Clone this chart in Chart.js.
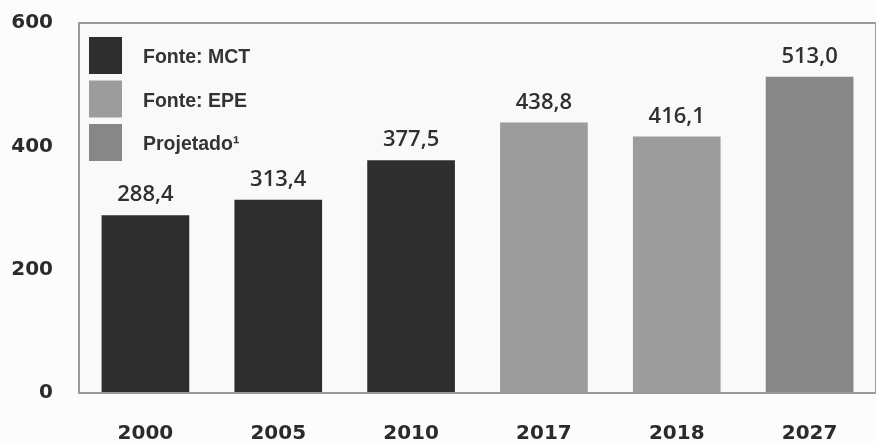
<!DOCTYPE html>
<html lang="pt">
<head>
<meta charset="utf-8">
<title>Emissões</title>
<script src="https://cdn.jsdelivr.net/npm/chart.js@4/dist/chart.umd.min.js"></script>
<style>
    html, body { margin: 0; padding: 0; background: #fcfcfc; }
    #wrap { width: 876px; height: 443px; position: relative; }
</style>
</head>
<body>
<div id="wrap"><canvas id="emissoes-chart"></canvas></div>
<script>
// anos e valores das barras
const years  = ["2000", "2005", "2010", "2017", "2018", "2027"];
const values = [288.4, 313.4, 377.5, 438.8, 416.1, 513.0];
// fonte de cada barra: 0 = MCT, 1 = EPE, 2 = projetado
const sourceIdx = [0, 0, 0, 1, 1, 2];

const legendLabels = ["Fonte: MCT", "Fonte: EPE", "Projetado¹"];
const legendColors = ["#2e2e2e", "#9c9c9c", "#878787"];

const yTicks = [0, 200, 400, 600];

const fmt = v => v.toFixed(1).replace(".", ",");

// legenda desenhada dentro da área do gráfico, canto superior esquerdo
const insideLegend = {
    id: "insideLegend",
    afterDraw(chart) {
        const ctx = chart.ctx;
        const a = chart.chartArea;
        ctx.save();
        ctx.font = "bold 19.5px 'Liberation Sans', Arial, sans-serif";
        ctx.textBaseline = "middle";
        legendLabels.forEach((txt, i) => {
            const top = a.top + 14 + i * 43.5;
            ctx.fillStyle = legendColors[i];
            ctx.fillRect(a.left + 10, top, 33, 37);
            ctx.fillStyle = "#333333";
            ctx.fillText(txt, a.left + 64, top + 21);
        });
        ctx.restore();
    },
};

// valores acima de cada barra
const valueLabels = {
    id: "valueLabels",
    afterDatasetsDraw(chart) {
        const ctx = chart.ctx;
        const meta = chart.getDatasetMeta(0);
        ctx.save();
        ctx.font = "600 22px 'Open Sans', sans-serif";
        ctx.fillStyle = "#2f2f2f";
        ctx.textAlign = "center";
        ctx.textBaseline = "bottom";
        meta.data.forEach((bar, i) => {
            ctx.fillText(fmt(values[i]), bar.x, bar.y - 9);
        });
        ctx.restore();
    },
};

// moldura cinza em volta da área do gráfico
const plotFrame = {
    id: "plotFrame",
    beforeDatasetsDraw(chart) {
        const ctx = chart.ctx;
        const a = chart.chartArea;
        ctx.save();
        ctx.fillStyle = "#f9f9f9";
        ctx.fillRect(a.left, a.top, a.right - a.left, a.bottom - a.top);
        ctx.restore();
    },
    afterDatasetsDraw(chart) {
        const ctx = chart.ctx;
        const a = chart.chartArea;
        ctx.save();
        ctx.strokeStyle = "#9a9a9a";
        ctx.lineWidth = 2;
        ctx.strokeRect(a.left, a.top, a.right - a.left, a.bottom - a.top);
        ctx.restore();
    },
};

const tickFont = { family: "'DejaVu Sans', sans-serif", size: 20, weight: "bold" };

new Chart(document.getElementById("emissoes-chart"), {
    type: "bar",
    data: {
        labels: years,
        datasets: [{
            data: values,
            backgroundColor: sourceIdx.map(s => legendColors[s]),
            categoryPercentage: 1,
            barPercentage: 0.66,
        }],
    },
    options: {
        responsive: true,
        maintainAspectRatio: false,
        animation: false,
        layout: { padding: { top: 23, right: 0, left: 0, bottom: 0 } },
        plugins: {
            legend: { display: false },
            tooltip: { enabled: false },
        },
        scales: {
            x: {
                grid: { display: false },
                border: { display: false },
                ticks: {
                    color: "#2b2b2b",
                    font: tickFont,
                    padding: 21,
                },
                afterFit(scale) {
                    scale.height = 50;
                    scale.paddingLeft = 0;
                    scale.paddingRight = 0;
                },
            },
            y: {
                min: 0,
                max: 600,
                afterBuildTicks(scale) { scale.ticks = yTicks.map(v => ({ value: v })); },
                grid: { display: false },
                border: { display: false },
                ticks: {
                    color: "#2b2b2b",
                    font: tickFont,
                    padding: 18,
                },
                afterFit(scale) {
                    scale.width = 79;
                    scale.paddingTop = 0;
                    scale.paddingBottom = 0;
                },
            },
        },
    },
    plugins: [plotFrame, valueLabels, insideLegend],
});
</script>
</body>
</html>
